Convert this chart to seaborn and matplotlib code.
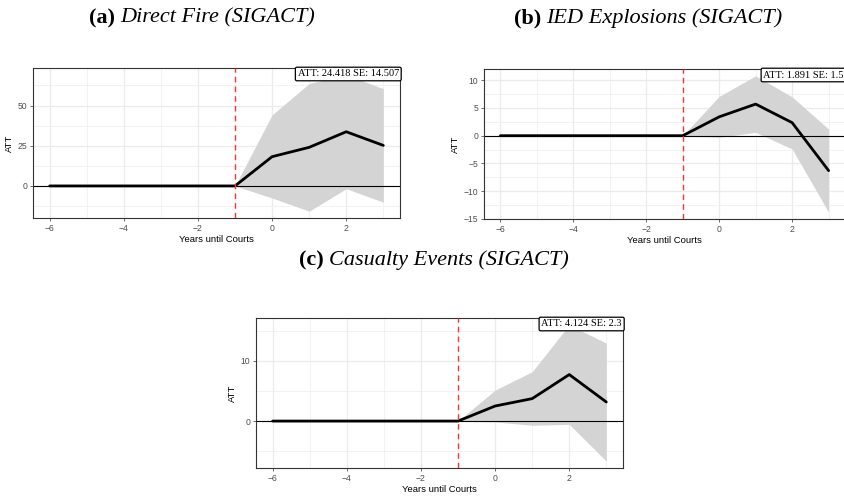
import numpy as np
import pandas as pd
import matplotlib
matplotlib.use("Agg")
import matplotlib.pyplot as plt
import seaborn as sns

# ---- data ----
years = [-6, -5, -4, -3, -2, -1, 0, 1, 2, 3]

fire_att = [0, 0, 0, 0, 0, 0, 18.2, 24.0, 33.7, 25.2]
fire_lo = [0, 0, 0, 0, 0, 0, -7.5, -15.7, -1.7, -10.1]
fire_hi = [0, 0, 0, 0, 0, 0, 44.2, 63.7, 69.1, 60.5]

ied_att = [0, 0, 0, 0, 0, 0, 3.4, 5.7, 2.35, -6.3]
ied_lo = [0, 0, 0, 0, 0, 0, -0.3, 0.6, -2.4, -13.8]
ied_hi = [0, 0, 0, 0, 0, 0, 7.1, 10.8, 7.0, 1.2]

cas_att = [0, 0, 0, 0, 0, 0, 2.5, 3.73, 7.73, 3.17]
cas_lo = [0, 0, 0, 0, 0, 0, -0.15, -0.7, -0.55, -6.67]
cas_hi = [0, 0, 0, 0, 0, 0, 5.15, 8.2, 16.0, 12.95]

titles_tag = ["(a)", "(b)", "(c)"]
titles_txt = ["Direct Fire (SIGACT)", "IED Explosions (SIGACT)", "Casualty Events (SIGACT)"]
att_labels = ["ATT: 24.418 SE: 14.507", "ATT: 1.891 SE: 1.5", "ATT: 4.124 SE: 2.3"]

x_ticks = [-6, -4, -2, 0, 2]
x_minor = [-5, -3, -1, 1, 3]
y_ticks = [[0, 25, 50], [-15, -10, -5, 0, 5, 10], [0, 10]]
y_minor = [[-12.5, 12.5, 37.5, 62.5], [-12.5, -7.5, -2.5, 2.5, 7.5], [-5, 5, 15]]
x_label = "Years until Courts"
y_label = "ATT"

sns.set_theme(style="white")
plt.rcParams["font.family"] = ["Liberation Sans", "DejaVu Sans"]

W, H = 844, 498
fig = plt.figure(figsize=(W / 100, H / 100), dpi=100)

# axes boxes in pixel coordinates (left, top, right, bottom)
boxes = [(33, 68, 400, 218), (484, 69, 845, 219), (256, 318, 623, 468)]

series = [
    (fire_att, fire_lo, fire_hi),
    (ied_att, ied_lo, ied_hi),
    (cas_att, cas_lo, cas_hi),
]


def fmt(v):
    return "\u2212" + str(-v) if v < 0 else str(v)


for i, (box, (att, lo, hi)) in enumerate(zip(boxes, series)):
    l, t, r, b = box
    ax = fig.add_axes([l / W, (H - b) / H, (r - l) / W, (b - t) / H])
    df = pd.DataFrame({"year": years, "att": att, "lo": lo, "hi": hi})
    ymin = min(lo)
    ymax = max(hi)
    pad = 0.05 * (ymax - ymin)
    ax.set_ylim(ymin - pad, ymax + pad)
    ax.set_xlim(-6.45, 3.45)

    # grid
    for v in x_ticks:
        ax.axvline(v, color="#EBEBEB", lw=0.9, zorder=0)
    for v in x_minor:
        ax.axvline(v, color="#EFEFEF", lw=0.55, zorder=0)
    for v in y_ticks[i]:
        ax.axhline(v, color="#EBEBEB", lw=0.9, zorder=0)
    for v in y_minor[i]:
        ax.axhline(v, color="#EFEFEF", lw=0.55, zorder=0)

    ax.fill_between(df["year"], df["lo"], df["hi"], color="#D4D4D4", lw=0, zorder=1)
    ax.axhline(0, color="black", lw=0.8, zorder=2)
    sns.lineplot(data=df, x="year", y="att", ax=ax, color="black", lw=2.0, zorder=3)
    ax.axvline(-1, color="#FF3333", lw=1.0, ls=(0, (4, 3)), zorder=4)

    ax.set_xticks(x_ticks)
    ax.set_xticklabels([fmt(v) for v in x_ticks])
    ax.set_yticks(y_ticks[i])
    ax.set_yticklabels([fmt(v) for v in y_ticks[i]])
    ax.tick_params(axis="both", labelsize=6.2, labelcolor="#4D4D4D", length=2.5,
                   width=0.5, color="#333333", pad=1.5, direction="out",
                   bottom=True, left=True)
    ax.set_xlabel(x_label, fontsize=6.8, color="black", labelpad=1.5)
    ax.set_ylabel(y_label, fontsize=6.8, color="black", labelpad=3)
    ax.grid(False)
    for sp in ax.spines.values():
        sp.set_color("#333333")
        sp.set_linewidth(0.8)
        sp.set_visible(True)

    ax.text(0.997, 0.99, att_labels[i], transform=ax.transAxes, ha="right", va="top",
            fontsize=7.5, family="Liberation Serif", color="black", zorder=6,
            bbox=dict(boxstyle="round,pad=0.22,rounding_size=0.15", fc="white", ec="black", lw=0.9))

# titles
title_pos = [(202, 18), (648, 18), (434, 260)]
for (cx, cy), tag, txt in zip(title_pos, titles_tag, titles_txt):
    t1 = fig.text(0, 0, tag + " ", fontsize=16, family="Liberation Serif", weight="bold", color="black")
    t2 = fig.text(0, 0, txt, fontsize=16, family="Liberation Serif", style="italic", color="black")
    fig.canvas.draw()
    r = fig.canvas.get_renderer()
    w1 = t1.get_window_extent(r).width
    w2 = t2.get_window_extent(r).width
    x0 = cx - (w1 + w2) / 2
    t1.set_position((x0 / W, (H - cy) / H))
    t1.set_va("center")
    t2.set_position(((x0 + w1) / W, (H - cy) / H))
    t2.set_va("center")

fig.savefig("out.png", dpi=100)
